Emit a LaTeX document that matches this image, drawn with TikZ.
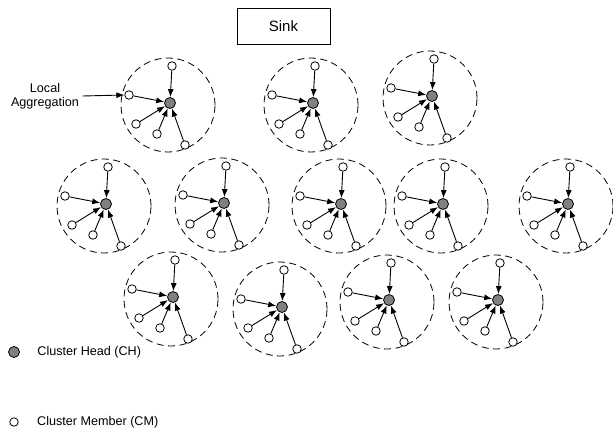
\documentclass[tikz,border=0pt]{standalone}
\usepackage{fontspec}
\setmainfont{Liberation Sans}
\usetikzlibrary{positioning,arrows.meta}

\begin{document}
\begin{tikzpicture}[
    x=1pt, y=-1pt,
    every node/.style={font=\fontsize{12.6}{14.5}\selectfont},
    sinkbox/.style={draw, line width=0.9pt, minimum width=93pt, minimum height=36pt, font=\fontsize{15}{17}\selectfont},
    head/.style={circle, draw, line width=0.8pt, fill=gray, inner sep=0pt, minimum size=11pt},
    member/.style={circle, draw, line width=0.8pt, fill=white, inner sep=0pt, minimum size=8.5pt},
    zone/.style={circle, draw, line width=0.8pt, dash pattern=on 7pt off 4.5pt, inner sep=0pt, minimum size=94pt},
    toch/.style={-{Latex[length=8pt,width=6pt]}, line width=0.9pt}
]
\useasboundingbox (0,0) rectangle (613,436);

% Sink
\node[sinkbox] (sink) at (283.5,26) {Sink};

% Clusters
\foreach \cx/\cy [count=\i] in {170/103, 313/103, 432/96,
    106/204, 224/203, 341/204, 443/204, 568/204,
    173/297, 282/307, 389/300, 498/300} {
  \node[zone] (zone\i) at (\cx-2,\cy+2) {};
  \node[head] (ch\i) at (\cx,\cy) {};
  \node[member] (m\i-1) at ([shift={(2,-37)}]ch\i) {};
  \node[member] (m\i-2) at ([shift={(-41,-8)}]ch\i) {};
  \node[member] (m\i-3) at ([shift={(-34,21)}]ch\i) {};
  \node[member] (m\i-4) at ([shift={(-13,31)}]ch\i) {};
  \node[member] (m\i-5) at ([shift={(15,42)}]ch\i) {};
  \foreach \j in {1,...,5}
    \draw[toch] (m\i-\j) -- (ch\i);
}

% Local aggregation label
\node[align=center] (aggr) at (45,96) {Local\\Aggregation};
\draw[toch] (aggr.east) -- (m1-2.west);

% Legend
\node[head] (keych) at (14,352) {};
\node[right=14pt of keych] (keychtext) {Cluster Head (CH)};
\node[member] (keycm) at (14,422) {};
\node[right=15pt of keycm] (keycmtext) {Cluster Member (CM)};

\end{tikzpicture}
\end{document}
